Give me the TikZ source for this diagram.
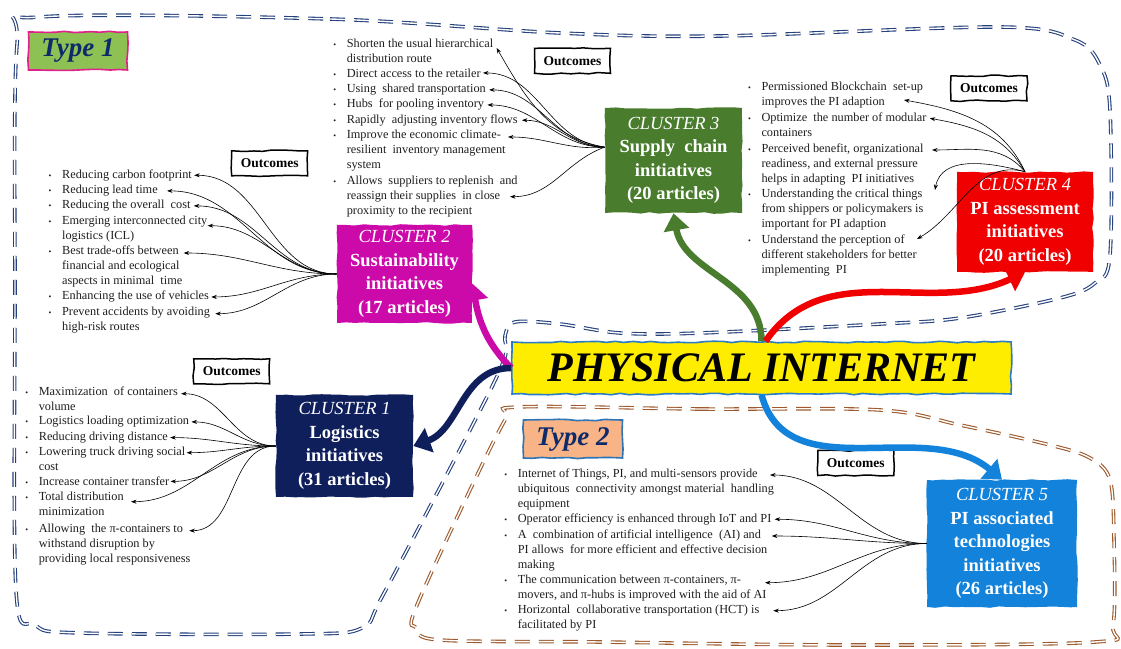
\documentclass[tikz,border=0pt]{standalone}
\usepackage{fontspec}
\setmainfont{Liberation Serif}
\usetikzlibrary{arrows.meta,decorations.pathmorphing}

\definecolor{cone}{HTML}{0F1F5C}
\definecolor{ctwo}{HTML}{CC0AAA}
\definecolor{cthree}{HTML}{4A7C2E}
\definecolor{cfour}{HTML}{F00000}
\definecolor{cfive}{HTML}{1282DA}
\definecolor{piyellow}{HTML}{FFED00}
\definecolor{piblue}{HTML}{2A7CC7}
\definecolor{tonefill}{HTML}{8DC154}
\definecolor{toneline}{HTML}{E0208C}
\definecolor{ttwofill}{HTML}{F8B386}
\definecolor{ttwoline}{HTML}{2E75B6}
\definecolor{typetext}{HTML}{0D2B6B}
\definecolor{navydash}{HTML}{25417C}
\definecolor{browndash}{HTML}{9E5A2C}
\definecolor{itemtext}{HTML}{1E1E1E}

\newcommand{\Clust}[3]{{\mdseries\itshape CLUSTER #1}\\#2\\initiatives\\(#3 articles)}
\newcommand{\itbul}{\makebox[13.5pt][l]{\fontsize{8}{8}\selectfont\textbullet}}
\newcommand{\itind}{\hspace*{13.5pt}}

\tikzset{
  rough/.style={decorate, decoration={random steps, segment length=9pt, amplitude=0.8pt}},
  cluster/.style={rough, text=white, align=center, inner sep=0pt,
    font=\bfseries\fontsize{18.5}{23.5}\selectfont},
  pibox/.style={rough, fill=piyellow, draw=piblue, line width=1.6pt, inner sep=0pt,
    minimum width=499pt, minimum height=52pt,
    font=\bfseries\itshape\fontsize{42}{42}\selectfont},
  typebox/.style={rough, line width=1.6pt, inner sep=0pt, text=typetext,
    minimum width=99pt, minimum height=38pt,
    font=\bfseries\itshape\fontsize{27}{27}\selectfont},
  outcome/.style={rough, draw=black, line width=1.5pt, fill=white, inner sep=0pt,
    minimum width=76pt, minimum height=25pt,
    font=\bfseries\fontsize{13.5}{15}\selectfont},
  item/.style={anchor=north west, align=left, inner sep=0pt, text=itemtext,
    font=\fontsize{12.3}{15}\selectfont},
  tonedash/.style={draw=navydash, double=white, double distance=1.4pt,
    line width=1.1pt, dash pattern=on 15pt off 9pt},
  ttwodash/.style={tonedash, draw=browndash},
  bigarr/.style={line width=6.5pt, -{Triangle[length=17pt,width=25pt]}}
}

\begin{document}
\begin{tikzpicture}[>={Stealth[length=5.5pt,width=4pt]}, x=1pt, y=1pt, line width=0.6pt]
    \pgfmathsetseed{11}
    \useasboundingbox (0,0) rectangle (1121,648);

    % the two groups
    \draw[tonedash] plot[smooth cycle, tension=0.55] coordinates {(40,631) (330,629)
      (560,615) (720,612) (1000,621) (1075,608) (1100,583) (1110,538) (1110,393)
      (1095,365) (1060,350) (960,330) (880,324) (700,315) (620,315) (560,324)
      (515,326) (505,312) (504,288) (470,218) (383,53) (362,20) (300,14) (80,15)
      (35,23) (16,58) (15,348) (17,603)};
    \draw[ttwodash] plot[smooth cycle, tension=0.55] coordinates {(518,241) (700,239)
      (880,238) (960,223) (1050,203) (1090,190) (1110,168) (1114,108) (1113,23)
      (1095,6) (850,3) (600,6) (440,8) (417,20) (415,38) (470,158) (505,228)};

    \draw(78,597) node[typebox, fill=tonefill, draw=toneline] (T1) {Type 1};
    \draw(573,209) node[typebox, fill=ttwofill, draw=ttwoline] (T2) {Type 2};

    \draw(761.5,280) node[pibox] (PI) {PHYSICAL INTERNET};

    \draw(344.5,202) node[cluster, fill=cone, minimum width=137pt, minimum height=102pt] (C1) {\Clust{1}{Logistics}{31}};
    \draw(404.5,374) node[cluster, fill=ctwo, minimum width=135pt, minimum height=98pt] (C2) {\Clust{2}{Sustainability}{17}};
    \draw(673.5,487.5) node[cluster, fill=cthree, minimum width=137pt, minimum height=105pt] (C3) {\Clust{3}{Supply~~chain}{20}};
    \draw(1025,426) node[cluster, fill=cfour, minimum width=136pt, minimum height=100pt] (C4) {\Clust{4}{PI assessment}{20}};
    \draw(1002,104.5) node[cluster, fill=cfive, minimum width=150pt, minimum height=127pt] (C5) {\Clust{5}{PI associated\\technologies}{26}};

    \draw(231.7,276.7) node[outcome] (O1) {Outcomes};
    \draw(269.7,484.7) node[outcome] (O2) {Outcomes};
    \draw(572.5,587.2) node[outcome] (O3) {Outcomes};
    \draw(989,559.7) node[outcome] (O4) {Outcomes};
    \draw(855.8,185) node[outcome] (O5) {Outcomes};

    % cluster 1
    \draw(25,261.3) node[item] (C1a) {\itbul Maximization~ of containers\\\itind volume};
    \draw(25,232) node[item] (C1b) {\itbul Logistics loading optimization};
    \draw(25,216.3) node[item] (C1c) {\itbul Reducing driving distance};
    \draw(25,201.3) node[item] (C1d) {\itbul Lowering truck driving social\\\itind cost};
    \draw(25,171.3) node[item] (C1e) {\itbul Increase container transfer};
    \draw(25,156.3) node[item] (C1f) {\itbul Total distribution\\\itind minimization};
    \draw(25,124.7) node[item] (C1g) {\itbul Allowing~ the π-containers to\\\itind withstand disruption by\\\itind providing local responsiveness};
    \coordinate (C1gt) at (189.3,117.3);
    \draw[<-] ([xshift=3pt,yshift=-7pt]C1a.north east) to[out=0,in=180] (C1.west);
    \draw[<-] ([xshift=2pt]C1b.east) to[out=0,in=180] (C1.west);
    \draw[<-] ([xshift=2pt]C1c.east) to[out=0,in=180] (C1.west);
    \draw[<-] ([xshift=1pt,yshift=-6pt]C1d.north east) to[out=0,in=180] (C1.west);
    \draw[<-] ([xshift=1pt]C1e.east) to[out=0,in=180] (C1.west);
    \draw[<-] ([xshift=7pt,yshift=-10pt]C1f.north east) to[out=0,in=180] (C1.west);
    \draw[<-] (C1gt) to[out=0,in=180] (C1.west);

    % cluster 2
    \draw(48.3,478.7) node[item] (C2a) {\itbul Reducing carbon footprint};
    \draw(48.3,463) node[item] (C2b) {\itbul Reducing lead time};
    \draw(48.3,448) node[item] (C2c) {\itbul Reducing the overall~ cost};
    \draw(48.3,432.3) node[item] (C2d) {\itbul Emerging interconnected city\\\itind logistics (ICL)};
    \draw(48.3,402) node[item] (C2e) {\itbul Best trade-offs between\\\itind financial and ecological\\\itind aspects in minimal~ time};
    \draw(48.3,357) node[item] (C2f) {\itbul Enhancing the use of vehicles};
    \draw(48.3,341.3) node[item] (C2g) {\itbul Prevent accidents by avoiding\\\itind high-risk routes};
    \draw[<-] ([xshift=2pt]C2a.east) to[out=0,in=180] (C2.west);
    \draw[<-] ([xshift=9pt]C2b.east) to[out=0,in=180] (C2.west);
    \draw[<-] ([xshift=3pt]C2c.east) to[out=0,in=180] (C2.west);
    \draw[<-] ([yshift=-10pt]C2d.north east) to[out=0,in=180] (C2.west);
    \draw[<-] ([xshift=1pt,yshift=-7pt]C2e.north east) to[out=0,in=180] (C2.west);
    \draw[<-] ([xshift=2pt]C2f.east) to[out=0,in=180] (C2.west);
    \draw[<-] ([xshift=5pt,yshift=-7pt]C2g.north east) to[out=0,in=180] (C2.west);

    % cluster 3
    \draw(333,609) node[item] (C3a) {\itbul Shorten the usual hierarchical\\\itind distribution route};
    \draw(333,579.7) node[item] (C3b) {\itbul Direct access to the retailer};
    \draw(333,564) node[item] (C3c) {\itbul Using~ shared transportation};
    \draw(333,549) node[item] (C3d) {\itbul Hubs~ for pooling inventory};
    \draw(333,533.7) node[item] (C3e) {\itbul Rapidly~ adjusting inventory flows};
    \draw(333,518) node[item] (C3f) {\itbul Improve the economic climate-\\\itind resilient~ inventory management\\\itind system};
    \draw(333,472.3) node[item] (C3g) {\itbul Allows~ suppliers to replenish~ and\\\itind reassign their supplies~ in close\\\itind proximity to the recipient};
    \coordinate (C3gt) at (510,451.3);
    \draw[<-] ([xshift=3pt,yshift=-9pt]C3a.north east) to[out=-60,in=170] (C3.169);
    \draw[<-] ([xshift=2pt]C3b.east) to[out=0,in=175] (C3.169);
    \draw[<-] ([xshift=3pt]C3c.east) to[out=0,in=178] (C3.169);
    \draw[<-] ([xshift=3pt]C3d.east) to[out=0,in=180] (C3.169);
    \draw[<-] ([xshift=4pt]C3e.east) to[out=0,in=180] (C3.169);
    \draw[<-] ([xshift=2pt,yshift=-7pt]C3f.north east) to[out=0,in=185] (C3.169);
    \draw[<-] (C3gt) to[out=0,in=200] (C3.169);

    % cluster 4
    \draw(747.7,566.3) node[item] (C4a) {\itbul Permissioned Blockchain~ set-up\\\itind improves the PI adaption};
    \draw(747.7,535.7) node[item] (C4b) {\itbul Optimize~ the number of modular\\\itind containers};
    \draw(747.7,504.7) node[item] (C4c) {\itbul Perceived benefit, organizational\\\itind readiness, and external pressure\\\itind helps in adapting~ PI initiatives};
    \draw(747.7,459.7) node[item] (C4d) {\itbul Understanding the critical things\\\itind from shippers or policymakers is\\\itind important for PI adaption};
    \draw(747.7,413.7) node[item] (C4e) {\itbul Understand the perception of\\\itind different stakeholders for better\\\itind implementing~ PI};
    \coordinate (C4at) at (904,548);
    \coordinate (C4ct) at (932,498);
    \coordinate (C4dt) at (935,458);
    \coordinate (C4et) at (917,409);
    \draw[<-] (C4at) to[out=-10,in=115] (C4.north);
    \draw[<-] ([xshift=3pt,yshift=-6pt]C4b.north east) to[out=-10,in=120] (C4.north);
    \draw[<-] (C4ct) to[out=0,in=130] (C4.north);
    \draw[<-] (C4dt) to[out=80,in=165] (C4.north);
    \draw[<-] (C4et) to[out=30,in=165] (C4.north);

    % cluster 5
    \draw(504,179) node[item] (C5a) {\itbul Internet of Things, PI, and multi-sensors provide\\\itind ubiquitous~ connectivity amongst material~ handling\\\itind equipment};
    \draw(504,134.7) node[item] (C5b) {\itbul Operator efficiency is enhanced through IoT and PI};
    \draw(504,118) node[item] (C5c) {\itbul A~ combination of artificial intelligence~ (AI) and\\\itind PI allows~ for more efficient and effective decision\\\itind making};
    \draw(504,73) node[item] (C5d) {\itbul The communication between π-containers, π-\\\itind movers, and π-hubs is improved with the aid of AI};
    \draw(504,43) node[item] (C5e) {\itbul Horizontal~ collaborative transportation (HCT) is\\\itind facilitated by PI};
    \coordinate (C5at) at (770,173);
    \coordinate (C5ct) at (771.7,112);
    \coordinate (C5dt) at (765,65.3);
    \coordinate (C5et) at (773.3,37.3);
    \draw[<-] (C5at) to[out=0,in=180] (C5.west);
    \draw[<-] ([xshift=3pt]C5b.east) to[out=0,in=180] (C5.west);
    \draw[<-] (C5ct) to[out=0,in=180] (C5.west);
    \draw[<-] (C5dt) to[out=0,in=180] (C5.west);
    \draw[<-] (C5et) to[out=0,in=180] (C5.west);

    % from the centre to the clusters
    \draw[bigarr, cthree] (PI.north) to[out=90,in=-80] (C3.south);
    \draw[bigarr, cfour] ([xshift=4pt]PI.north) to[out=55,in=-155] (C4.south);
    \draw[bigarr, ctwo] (PI.west) to[out=135,in=-80] (C2.-8);
    \draw[bigarr, cone] (PI.west) to[out=180,in=20] (C1.east);
    \draw[bigarr, cfive] (PI.south) to[out=-75,in=140] (C5.north);

\end{tikzpicture}
\end{document}
